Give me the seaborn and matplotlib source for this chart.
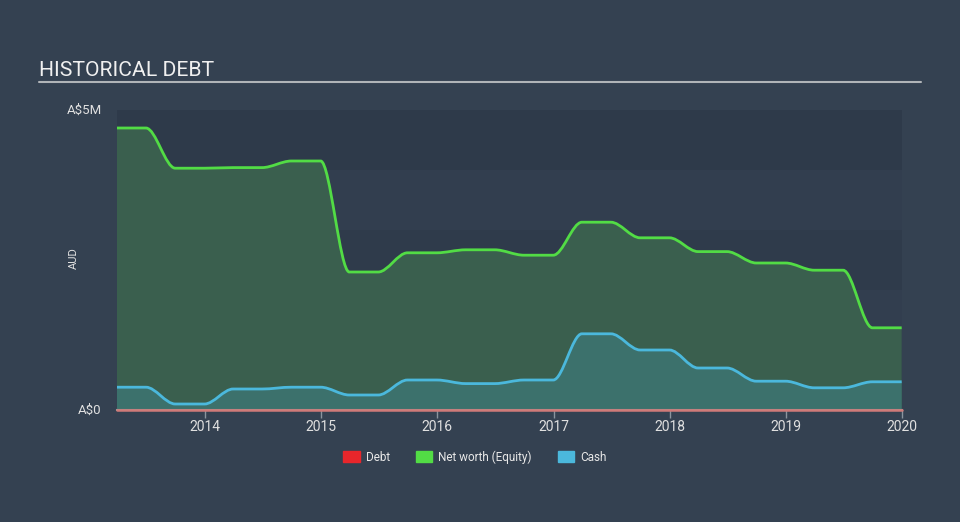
import matplotlib
matplotlib.use("Agg")
import matplotlib.pyplot as plt
import matplotlib.patches as mpatches
import matplotlib.dates as mdates
from matplotlib.path import Path
import seaborn as sns
import pandas as pd
import numpy as np

# ---- data (A$ millions, quarterly) ----
dates = pd.to_datetime([
    "2013-03-31", "2013-06-30", "2013-09-30", "2013-12-31",
    "2014-03-31", "2014-06-30", "2014-09-30", "2014-12-31",
    "2015-03-31", "2015-06-30", "2015-09-30", "2015-12-31",
    "2016-03-31", "2016-06-30", "2016-09-30", "2016-12-31",
    "2017-03-31", "2017-06-30", "2017-09-30", "2017-12-31",
    "2018-03-31", "2018-06-30", "2018-09-30", "2018-12-31",
    "2019-03-31", "2019-06-30", "2019-09-30", "2019-12-31",
])
equity = [4.70, 4.70, 4.03, 4.03, 4.04, 4.04, 4.15, 4.15,
          2.30, 2.30, 2.62, 2.62, 2.67, 2.67, 2.58, 2.58,
          3.13, 3.13, 2.87, 2.87, 2.64, 2.64, 2.45, 2.45,
          2.33, 2.33, 1.37, 1.37]
cash = [0.38, 0.38, 0.10, 0.10, 0.35, 0.35, 0.38, 0.38,
        0.25, 0.25, 0.50, 0.50, 0.44, 0.44, 0.50, 0.50,
        1.27, 1.27, 1.00, 1.00, 0.70, 0.70, 0.48, 0.48,
        0.37, 0.37, 0.47, 0.47]
debt = [0.0] * len(dates)

year_ticks = ["2014", "2015", "2016", "2017", "2018", "2019", "2020"]
y_ticks = [0, 5]
y_tick_labels = ["A$0", "A$5M"]
legend_labels = ["Debt", "Net worth (Equity)", "Cash"]

# ---- style ----
BG = "#344151"
sns.set_theme(style="dark")
plt.rcParams["font.family"] = ["Roboto", "DejaVu Sans"]

fig = plt.figure(figsize=(9.6, 5.22), dpi=100, facecolor=BG)
ax = fig.add_axes([117 / 960, 1 - 410 / 522, (902 - 117) / 960, 300 / 522])
ax.set_facecolor(BG)

band_cols = ["#2f3b4b", "#323e4f", "#2f3b4b", "#323e4f", "#2e3a4a"]
for i, c in enumerate(band_cols):
    ax.axhspan(i, i + 1, color=c, zorder=0, lw=0)

df = pd.DataFrame({"date": dates, "equity": equity, "cash": cash, "debt": debt})

GREEN = "#52dc45"
BLUE = "#4bb8dc"
RED = "#e8262b"


def smooth_path(xs, ys, closed=False):
    """Smooth curve through the data points (horizontal tangents, bezier segments)."""
    verts = [(xs[0], ys[0])]
    codes = [Path.MOVETO]
    for i in range(len(xs) - 1):
        dx = xs[i + 1] - xs[i]
        verts += [(xs[i] + dx / 3, ys[i]), (xs[i + 1] - dx / 3, ys[i + 1]),
                  (xs[i + 1], ys[i + 1])]
        codes += [Path.CURVE4] * 3
    if closed:
        verts += [(xs[-1], 0), (xs[0], 0), (xs[0], ys[0])]
        codes += [Path.LINETO, Path.LINETO, Path.CLOSEPOLY]
    return Path(verts, codes)


xnum = mdates.date2num(df["date"])
for col, fillc, linec, z in [("equity", "#3a5f4e", GREEN, 1), ("cash", "#3c716c", BLUE, 2)]:
    ys = df[col].to_numpy()
    ax.add_patch(mpatches.PathPatch(smooth_path(xnum, ys, closed=True), facecolor=fillc,
                                    edgecolor="none", zorder=z))
    ax.add_patch(mpatches.PathPatch(smooth_path(xnum, ys), facecolor="none",
                                    edgecolor=linec, lw=2, zorder=3, capstyle="butt"))

sns.lineplot(data=df, x="date", y="debt", color="#d07a78", lw=1.8, ax=ax, zorder=4,
             clip_on=False)

ax.set_xlim(pd.Timestamp("2013-03-31"), pd.Timestamp("2020-01-01"))
ax.set_ylim(0, 5)

for s in ["top", "right", "left"]:
    ax.spines[s].set_visible(False)
ax.spines["bottom"].set_color("#9a9a9a")
ax.spines["bottom"].set_linewidth(1.5)

ax.set_xticks([pd.Timestamp(f"{y}-01-01") for y in year_ticks])
ax.set_xticklabels(year_ticks)
ax.tick_params(axis="x", colors="#8a949e", length=6, width=1, direction="out",
               labelcolor="#e0e0e0", labelsize=10, pad=1.5, bottom=True)
ax.set_yticks(y_ticks)
ax.set_yticklabels(y_tick_labels)
ax.tick_params(axis="y", length=0, labelcolor="#e0e0e0", labelsize=9.5, pad=11)
for lbl in ax.get_yticklabels():
    lbl.set_verticalalignment("center")
ax.set_xlabel("")
ax.set_ylabel("AUD", color="#e0e0e0", fontsize=8)
ax.yaxis.set_label_coords((79 - 117) / 785, (410 - 258) / 300)
ax.grid(False)

fig.text(39 / 960, 1 - 70 / 522, "HISTORICAL DEBT", color="#f0f0f0", fontsize=15.2,
         va="center", ha="left")
fig.add_artist(plt.Line2D([39 / 960, 921 / 960], [1 - 82 / 522, 1 - 82 / 522],
                          color="#b0b4b8", lw=1.5))

handles = [mpatches.Patch(color=c, label=l) for c, l in zip([RED, GREEN, BLUE], legend_labels)]
leg = fig.legend(handles=handles, loc="center", bbox_to_anchor=(475 / 960, 1 - 457 / 522),
                 ncol=3, frameon=False, fontsize=8.5, handlelength=1.4, handleheight=1.0,
                 columnspacing=2.2, handletextpad=0.5)
for t in leg.get_texts():
    t.set_color("#e8e8e8")

fig.savefig("out.png", dpi=100, facecolor=BG)
